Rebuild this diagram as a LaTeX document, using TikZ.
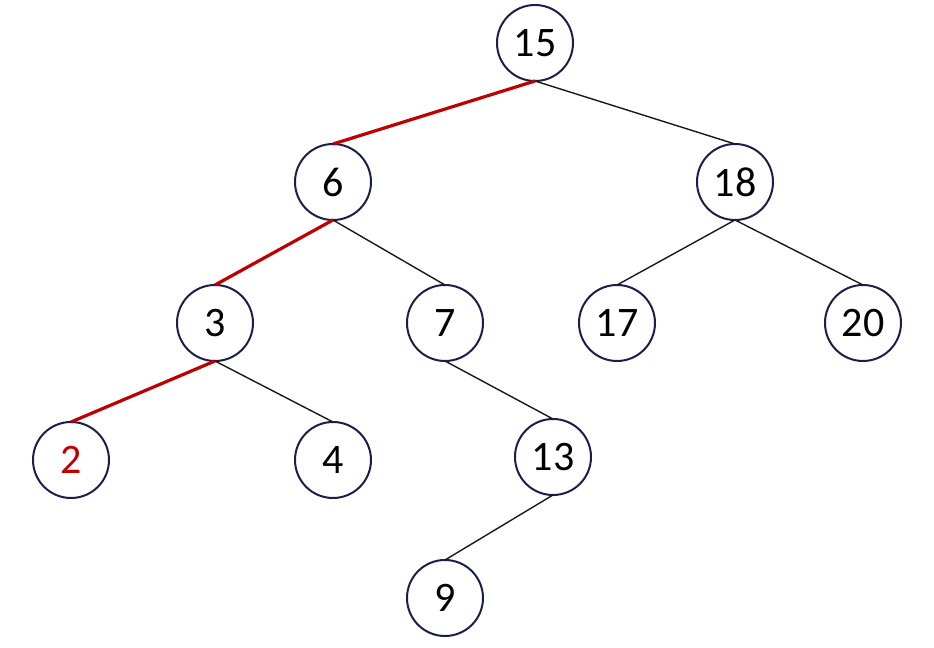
\documentclass[tikz,border=0pt]{standalone}
\usepackage{fontspec}
\setmainfont{Carlito}
\definecolor{navy}{HTML}{1A1F4A}
\definecolor{tred}{HTML}{C00000}
\begin{document}
\begin{tikzpicture}[x=0.5pt,y=-0.5pt,
  tn/.style={circle,draw=navy,line width=1pt,minimum size=38pt,inner sep=0pt,outer sep=0pt,font=\fontsize{21}{25}\selectfont},
  ed/.style={draw=black!90,line width=0.7pt},
  hl/.style={draw=tred,line width=1.6pt}]
\useasboundingbox (0,0) rectangle (934,648);
\node[tn] (n15) at (535,43) {15};
\node[tn] (n6) at (333,182) {6};
\node[tn] (n18) at (735,182) {18};
\node[tn] (n3) at (215,323) {3};
\node[tn] (n7) at (445,323) {7};
\node[tn] (n17) at (617,323) {17};
\node[tn] (n20) at (863,323) {20};
\node[tn,text=tred] (n2) at (71,460) {2};
\node[tn] (n4) at (333,460) {4};
\node[tn] (n13) at (553,457) {13};
\node[tn] (n9) at (445,598) {9};
\draw[ed] (n15.south) -- (n18.north);
\draw[ed] (n6.south) -- (n7.north);
\draw[ed] (n18.south) -- (n17.north);
\draw[ed] (n18.south) -- (n20.north);
\draw[ed] (n3.south) -- (n4.north);
\draw[ed] (n7.south) -- (n13.north);
\draw[ed] (n13.south) -- (n9.north);
\draw[hl] (n15.south) -- (n6.north);
\draw[hl] (n6.south) -- (n3.north);
\draw[hl] (n3.south) -- (n2.north);
\end{tikzpicture}
\end{document}
